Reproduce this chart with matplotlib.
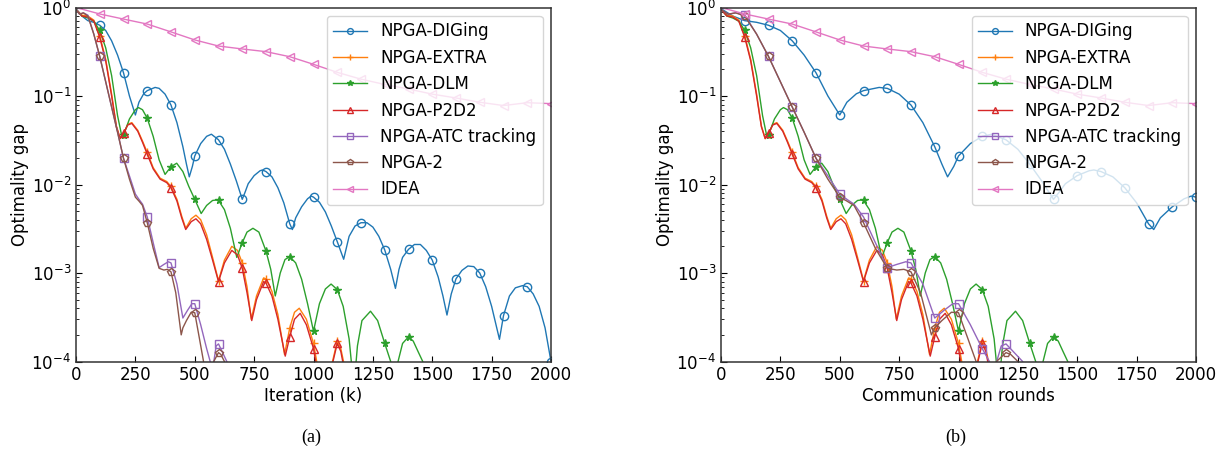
import matplotlib
matplotlib.use('Agg')
import matplotlib.pyplot as plt

methods = ['NPGA-DIGing', 'NPGA-EXTRA', 'NPGA-DLM', 'NPGA-P2D2',
           'NPGA-ATC tracking', 'NPGA-2', 'IDEA']
colors = ['#1f77b4', '#ff7f0e', '#2ca02c', '#d62728', '#9467bd', '#8c564b', '#e377c2']
markers = ['o', '+', '*', '^', 's', 'p', '<']
# communication rounds spent per iteration (right panel x = rounds)
rounds_per_iter = [2, 1, 1, 1, 2, 2, 1]

diging_k = [0, 25, 50, 75, 100, 125, 150, 175, 200, 225,
            250, 265, 285, 300, 333, 350, 375, 400, 425, 450,
            465, 477, 490, 500, 525, 550, 570, 600, 625, 650,
            675, 700, 712, 725, 750, 775, 785, 800, 825, 850,
            875, 900, 911, 925, 950, 975, 990, 1000, 1025, 1050,
            1075, 1100, 1127, 1150, 1175, 1200, 1225, 1250, 1275, 1300,
            1325, 1345, 1360, 1375, 1400, 1425, 1450, 1475, 1500, 1525,
            1545, 1562, 1580, 1600, 1625, 1650, 1675, 1700, 1725, 1750,
            1783, 1800, 1825, 1850, 1880, 1900, 1925, 1950, 1975, 2000]
diging_gap = [0.97, 0.80, 0.71, 0.68, 0.63, 0.55, 0.42, 0.29, 0.183, 0.10,
              0.061, 0.085, 0.106, 0.115, 0.125, 0.122, 0.105, 0.079, 0.050, 0.0267,
              0.017, 0.0122, 0.016, 0.021, 0.029, 0.035, 0.037, 0.032, 0.025, 0.017,
              0.011, 0.0068, 0.0082, 0.0102, 0.0126, 0.0143, 0.0146, 0.014, 0.0122, 0.0092,
              0.0062, 0.0036, 0.0031, 0.0042, 0.0056, 0.0069, 0.0074, 0.0072, 0.0063, 0.0049,
              0.0034, 0.00226, 0.00143, 0.0026, 0.0034, 0.0037, 0.0037, 0.0033, 0.0026, 0.00182,
              0.0011, 0.00067, 0.0011, 0.0015, 0.00185, 0.0021, 0.0021, 0.0018, 0.0014, 0.0009,
              0.00055, 0.000335, 0.00058, 0.00086, 0.00107, 0.0012, 0.00118, 0.001, 0.0007, 0.00042,
              0.000178, 0.00033, 0.00055, 0.00068, 0.00072, 0.0007, 0.00058, 0.00042, 0.00024, 0.0001]

extra_k = [0, 25, 50, 75, 100, 125, 150, 170, 186, 200,
           218, 235, 260, 280, 300, 325, 354, 382, 400, 425,
           445, 462, 485, 505, 525, 550, 575, 600, 625, 656,
           680, 700, 720, 738, 760, 790, 800, 825, 850, 878,
           900, 920, 940, 970, 1000, 1020, 1045, 1080, 1100, 1115,
           1130, 1160]
extra_gap = [0.95, 0.82, 0.80, 0.72, 0.48, 0.26, 0.105, 0.046, 0.033, 0.037,
             0.048, 0.050, 0.041, 0.031, 0.023, 0.0155, 0.0118, 0.0108, 0.0095, 0.0068,
             0.0044, 0.0032, 0.0041, 0.0045, 0.0040, 0.0027, 0.0015, 0.00082, 0.0014, 0.0020,
             0.0018, 0.0013, 0.0007, 0.0003, 0.00055, 0.00088, 0.00086, 0.00062, 0.00034, 0.00012,
             0.00024, 0.00036, 0.0004, 0.0003, 0.00016, 0.00008, 0.00004, 0.0001, 0.00017, 0.00014,
             0.00009, 0.00004]

dlm_k = [0, 25, 50, 75, 100, 125, 150, 175, 193, 200,
         225, 250, 263, 280, 300, 325, 350, 375, 400, 424,
         450, 475, 500, 527, 550, 575, 595, 600, 625, 650,
         677, 700, 720, 745, 770, 800, 820, 839, 860, 880,
         900, 925, 950, 975, 1000, 1025, 1050, 1074, 1100, 1125,
         1150, 1170, 1185, 1204, 1240, 1270, 1300, 1325, 1340, 1356,
         1375, 1400, 1420, 1440, 1460, 1480]
dlm_gap = [0.95, 0.80, 0.76, 0.70, 0.55, 0.35, 0.17, 0.06, 0.035, 0.036,
           0.055, 0.070, 0.074, 0.070, 0.056, 0.035, 0.019, 0.013, 0.0159, 0.0174,
           0.014, 0.0095, 0.0068, 0.0047, 0.0058, 0.0066, 0.0067, 0.0066, 0.0052, 0.0032,
           0.0015, 0.0022, 0.0029, 0.0032, 0.0029, 0.00177, 0.0011, 0.00055, 0.0010, 0.00142,
           0.00153, 0.0013, 0.00085, 0.00045, 0.00022, 0.00045, 0.00066, 0.00075, 0.00065, 0.00042,
           0.00018, 0.00005, 0.00015, 0.00029, 0.00037, 0.00029, 0.00016, 0.0001, 0.00004, 0.0001,
           0.00016, 0.00019, 0.00017, 0.00013, 0.0001, 0.00005]

p2d2_k = [0, 25, 50, 75, 100, 125, 150, 170, 186, 200,
          218, 235, 260, 280, 300, 325, 354, 382, 400, 425,
          445, 462, 485, 505, 525, 550, 575, 600, 625, 656,
          680, 700, 720, 740, 760, 790, 800, 825, 850, 881,
          900, 920, 944, 970, 1000, 1015, 1045, 1082, 1100, 1115,
          1130, 1160]
p2d2_gap = [0.95, 0.80, 0.78, 0.70, 0.46, 0.25, 0.10, 0.045, 0.033, 0.038,
            0.047, 0.049, 0.040, 0.030, 0.022, 0.015, 0.0115, 0.0105, 0.0092, 0.0065,
            0.0042, 0.0031, 0.0038, 0.0041, 0.0036, 0.0024, 0.0014, 0.0008, 0.0013, 0.0018,
            0.0016, 0.00113, 0.0006, 0.00029, 0.0005, 0.0008, 0.00077, 0.00055, 0.0003, 0.000115,
            0.00019, 0.0003, 0.00035, 0.00026, 0.00014, 0.00008, 0.00004, 0.0001, 0.00016, 0.00013,
            0.00008, 0.00004]

atc_k = [0, 15, 31, 50, 75, 100, 125, 150, 175, 200,
         225, 250, 265, 280, 300, 325, 350, 370, 389, 400,
         425, 450, 470, 488, 500, 525, 550, 565, 572, 590,
         600, 615, 635, 650]
atc_gap = [0.95, 0.84, 0.87, 0.82, 0.50, 0.28, 0.145, 0.075, 0.039, 0.0198,
           0.0125, 0.0078, 0.0068, 0.006, 0.0043, 0.0022, 0.00115, 0.00125, 0.00134, 0.0013,
           0.00075, 0.00031, 0.00038, 0.00045, 0.00045, 0.00026, 0.00014, 0.0001, 0.00007, 0.00015,
           0.000158, 0.00013, 0.0001, 0.00006]

npga2_k = [0, 15, 31, 50, 75, 100, 125, 150, 175, 200,
           225, 250, 265, 280, 300, 325, 350, 370, 385, 400,
           420, 443, 450, 465, 485, 500, 520, 537, 555, 580,
           600, 610, 625, 640]
npga2_gap = [0.95, 0.84, 0.87, 0.80, 0.50, 0.28, 0.145, 0.075, 0.039, 0.0198,
             0.0115, 0.0072, 0.0065, 0.0058, 0.0037, 0.0019, 0.00113, 0.00108, 0.0011, 0.00103,
             0.0006, 0.0002, 0.00024, 0.00029, 0.00036, 0.000356, 0.00018, 0.0001, 0.00005, 0.0001,
             0.000126, 0.00012, 0.0001, 0.00005]

idea_k = [0, 100, 200, 300, 400, 500, 600, 700, 800, 900, 1000,
          1100, 1200, 1300, 1400, 1500, 1600, 1700, 1800, 1900, 2000]
idea_gap = [1.0, 0.845, 0.74, 0.65, 0.53, 0.43, 0.367, 0.34, 0.317, 0.278, 0.228,
            0.185, 0.155, 0.135, 0.12, 0.105, 0.095, 0.085, 0.078, 0.084, 0.082]

series_k = [diging_k, extra_k, dlm_k, p2d2_k, atc_k, npga2_k, idea_k]
series_gap = [diging_gap, extra_gap, dlm_gap, p2d2_gap, atc_gap, npga2_gap, idea_gap]

xticks = [0, 250, 500, 750, 1000, 1250, 1500, 1750, 2000]
xlabels = ['Iteration (k)', 'Communication rounds']
captions = ['(a)', '(b)']

fig = plt.figure(figsize=(12.27, 4.54), dpi=100)
W, H = 1227.0, 454.0
ax_left = [76 / W, 721 / W]
ax_w = 475 / W
ax_b = 1 - 361.5 / H
ax_h = 354 / H

for p in range(2):
    ax = fig.add_axes([ax_left[p], ax_b, ax_w, ax_h])
    for i, name in enumerate(methods):
        mult = 1 if p == 0 else rounds_per_iter[i]
        xs = [k * mult for k in series_k[i]]
        ys = series_gap[i]
        mev = [j for j, x in enumerate(xs) if x > 0 and x % 100 == 0 and x <= 2000]
        filled = markers[i] in ('*', '+')
        ax.plot(xs, ys, color=colors[i], lw=1.0, marker=markers[i],
                markevery=mev, markersize=6 if markers[i] != '*' else 5.5,
                markerfacecolor=colors[i] if filled else 'none',
                markeredgecolor=colors[i], markeredgewidth=1.0, label=name)
    ax.set_yscale('log')
    ax.set_xlim(0, 2000)
    ax.set_ylim(1e-4, 1)
    ax.set_xticks(xticks)
    ax.tick_params(axis='both', which='both', direction='in', labelsize=12)
    ax.tick_params(axis='both', which='major', length=4)
    ax.tick_params(axis='y', which='minor', length=2)
    for s in ax.spines.values():
        s.set_linewidth(1.1)
        s.set_color('#333333')
    ax.set_xlabel(xlabels[p], fontsize=12, labelpad=2)
    ax.set_ylabel('Optimality gap', fontsize=12, labelpad=2)
    ax.legend(loc='upper right', fontsize=12, markerscale=0.7)
    fig.text(ax_left[p] + ax_w * 0.5 - 0.002, 1 - 437 / H, captions[p],
             ha='center', va='center', fontsize=13, family='Liberation Serif')

fig.savefig('out.png', dpi=100)
